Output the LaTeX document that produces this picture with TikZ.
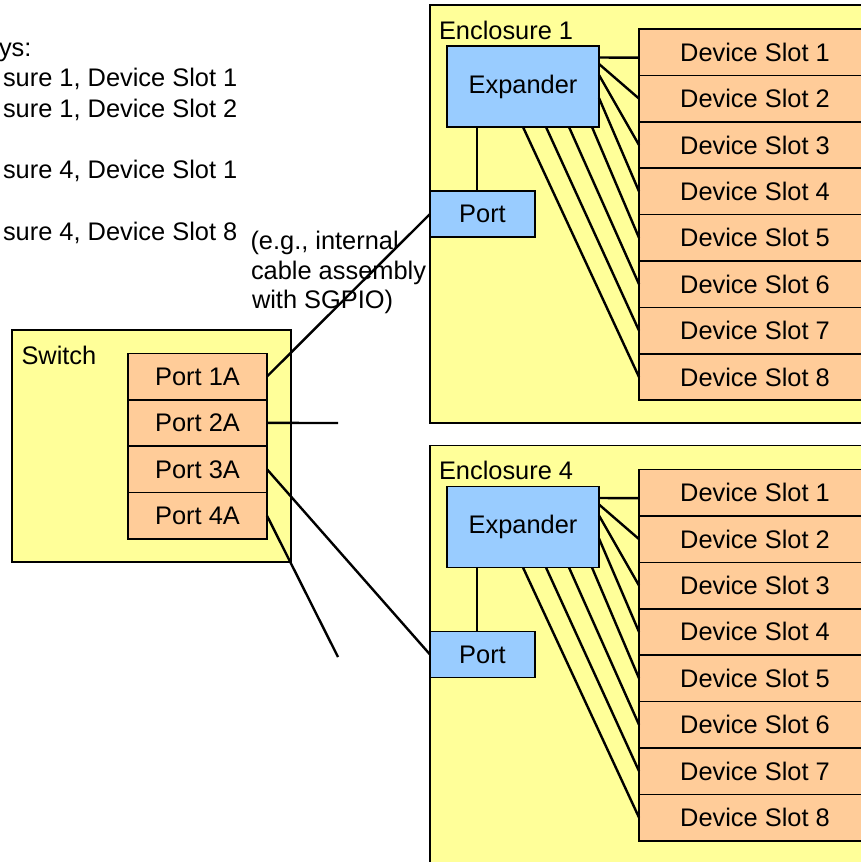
\documentclass[tikz,border=0pt]{standalone}
\usepackage{fontspec}
\setmainfont{Liberation Sans}
\definecolor{yellowf}{HTML}{FFFF99}
\definecolor{orangef}{HTML}{FFCC99}
\definecolor{bluef}{HTML}{99CCFF}
\begin{document}
\begin{tikzpicture}[x=1pt,y=-1pt,
  every node/.style={font=\fontsize{25.4}{30}\selectfont, inner sep=0pt, outer sep=0pt},
  container/.style={draw=black, line width=1.6pt, fill=yellowf, anchor=north west},
  slotbox/.style={draw=black, line width=1.6pt, fill=orangef, minimum width=232pt, minimum height=46.4pt},
  portbox/.style={draw=black, line width=1.6pt, fill=orangef, minimum width=139pt, minimum height=46.4pt},
  expbox/.style={draw=black, line width=1.6pt, fill=bluef, minimum width=152pt, minimum height=81pt},
  encport/.style={draw=black, line width=1.6pt, fill=bluef, minimum width=105pt, minimum height=46pt},
  txt/.style={anchor=base west},
  wire/.style={draw=black, line width=2.4pt}]
\useasboundingbox (0,0) rectangle (861,862);
\clip (0,0) rectangle (861,862);
\fill[white] (0,0) rectangle (861,862);

% top-left text
\node[txt] (t0) at (-1,56) {ys:};
\node[txt] (t1) at (3,86.7) {sure 1, Device Slot 1};
\node[txt] (t2) at (3,117.4) {sure 1, Device Slot 2};
\node[txt] (t3) at (3,178.8) {sure 4, Device Slot 1};
\node[txt] (t4) at (3,240.2) {sure 4, Device Slot 8};
\node[txt] (c1) at (250.5,249) {(e.g., internal};
\node[txt] (c2) at (251,279) {cable assembly};
\node[txt] (c3) at (252,308) {with SGPIO)};

% enclosures
\node[container, minimum width=480pt, minimum height=418pt] (enc1) at (430,5) {};
\node[container, minimum width=480pt, minimum height=500pt] (enc4) at (430,445.5) {};

\foreach \n/\dy in {1/0,4/440.5}{
  \node[txt] (enclabel\n) at (439,39+\dy) {Enclosure \n};
  \node[expbox] (exp\n) at (523,86.5+\dy) {Expander};
  \node[encport] (port\n) at (482.5,214+\dy) {Port};
  \foreach \i in {1,...,8}{
    \node[slotbox] (s\n-\i) at (755,{52.2+46.4*(\i-1)+\dy}) {Device Slot \i};
  }
  \draw[wire] ([yshift=-11.5pt]exp\n.north east) -- ([yshift=-5.5pt]s\n-1.west);
  \draw[wire] ([yshift=-18pt]exp\n.north east) -- (s\n-2.west);
  \draw[wire] ([yshift=-29pt]exp\n.north east) -- (s\n-3.west);
  \draw[wire] ([yshift=-52pt]exp\n.north east) -- (s\n-4.west);
  \draw[wire] ([xshift=-7pt]exp\n.south east) -- (s\n-5.west);
  \draw[wire] ([xshift=-30pt]exp\n.south east) -- (s\n-6.west);
  \draw[wire] ([xshift=-53pt]exp\n.south east) -- (s\n-7.west);
  \draw[wire] ([xshift=-76pt]exp\n.south east) -- (s\n-8.west);
  \coordinate (pc\n) at ([xshift=30pt]exp\n.south west);
  \draw[wire] (pc\n) -- (pc\n |- port\n.north);
}

% switch
\node[container, minimum width=279pt, minimum height=232pt] (switch) at (12,330) {};
\node[txt] (switchlabel) at (21.5,364) {Switch};
\foreach \i in {1,...,4}{
  \node[portbox] (p\i) at (197.5,{376.5+46.4*(\i-1)}) {Port \i A};
}
\coordinate (free2) at (338,423);
\coordinate (free4) at (338,657);
\draw[wire] (p1.east) -- (port1.west);
\draw[wire] (p2.east) -- (free2);
\draw[wire] (p3.east) -- (port4.west);
\draw[wire] (p4.east) -- (free4);
\end{tikzpicture}
\end{document}
